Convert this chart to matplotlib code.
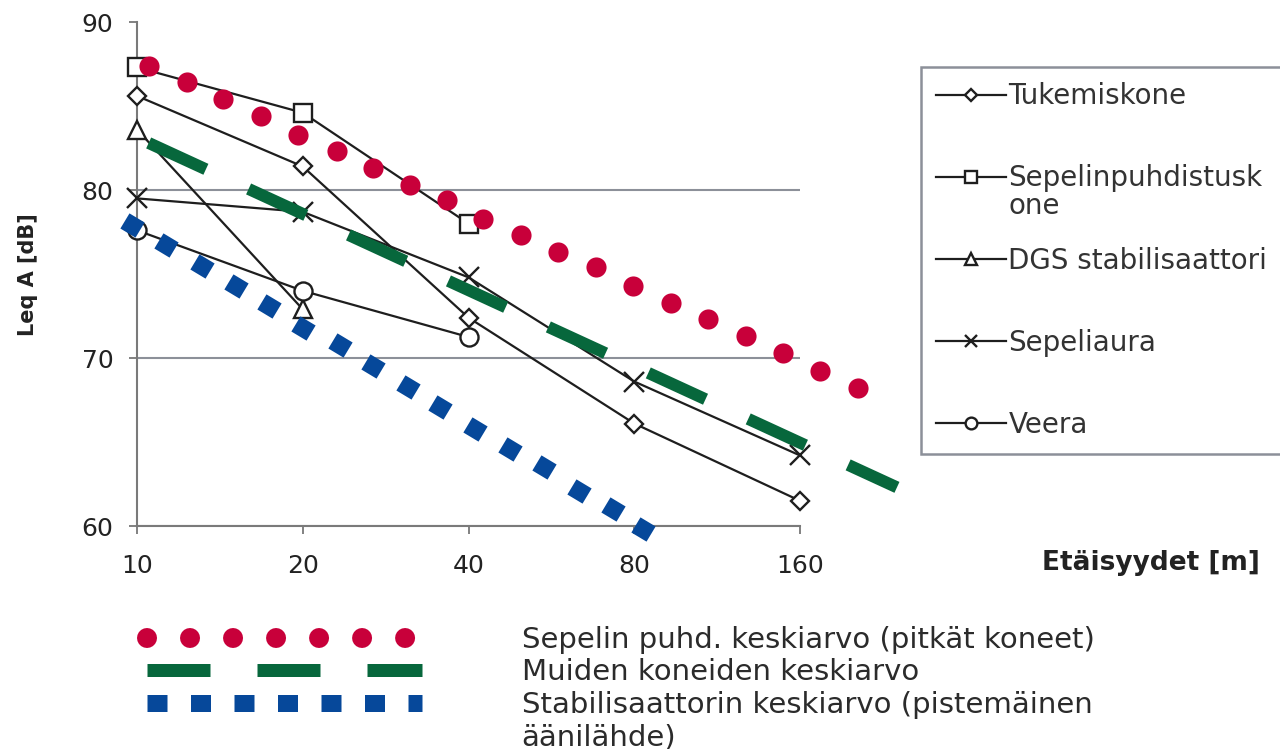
"""
Leq A noise level vs distance for track machines, with the three
average curves drawn on top (red dots, green dashes, blue squares).
"""
import matplotlib.pyplot as plt
from matplotlib.lines import Line2D
from matplotlib.text import Annotation
from matplotlib.ticker import FixedLocator, FixedFormatter, NullLocator

plt.rcParams['font.family'] = ['DejaVu Sans']
plt.rcParams['lines.scale_dashes'] = False

PX = 72 / 100          # points per pixel at dpi=100

# ── data ──────────────────────────────────────────────────────────────────
dist = [10, 20, 40, 80, 160]
dist_labels = ['10', '20', '40', '80', '160']

tukemiskone  = [85.6, 81.4, 72.4, 66.1, 61.5]
sepelinpuhd  = [87.3, 84.6, 78.0]
dgs_stab     = [83.6, 72.9]
sepeliaura   = [79.5, 78.7, 74.8, 68.6, 64.2]
veera        = [77.6, 74.0, 71.25]

# Sepelin puhd. keskiarvo (red dots)
red_x = [10.5, 12.3, 14.3, 16.8, 19.6, 23.1, 26.8, 31.3, 36.6, 42.5,
         49.8, 58.2, 68.2, 79.6, 93.3, 108.9, 127.7, 149.0, 174.0, 203.9]
red_y = [87.4, 86.4, 85.4, 84.4, 83.3, 82.3, 81.3, 80.3, 79.4, 78.3,
         77.3, 76.3, 75.4, 74.3, 73.3, 72.3, 71.3, 70.3, 69.2, 68.2]

# Muiden koneiden keskiarvo (green dashes), start / end
green_x = [10.5, 240.0]
green_y = [82.8, 62.3]

# Stabilisaattorin keskiarvo (blue squares)
blue_x = [9.8, 11.3, 13.1, 15.1, 17.4, 20.0, 23.4, 26.8, 31.1, 35.5,
          41.1, 47.6, 54.9, 63.5, 73.2, 83.0]
blue_y = [77.9, 76.7, 75.5, 74.3, 73.1, 71.8, 70.8, 69.5, 68.3, 67.1,
          65.8, 64.6, 63.5, 62.1, 61.0, 59.8]

RED, GREEN, BLUE = '#c8003a', '#07673c', '#06489a'
INK, GRID = '#1e1e1e', '#8c9099'

# ── figure ────────────────────────────────────────────────────────────────
fig = plt.figure(figsize=(12.8, 7.49), dpi=100)
ax = fig.add_axes([137 / 1280, 1 - 526 / 749, 663 / 1280, 504 / 749])
ax.set_xscale('log')
ax.set_xlim(10, 160)
ax.set_ylim(60, 90)

kw = dict(color=INK, lw=1.6, mfc='white', mec=INK, mew=1.7, zorder=3,
          clip_on=False)
l1, = ax.plot(dist, tukemiskone, marker='D', ms=9, **kw)
l2, = ax.plot(dist[:3], sepelinpuhd, marker='s', ms=13, **kw)
l3, = ax.plot(dist[:2], dgs_stab, marker='^', ms=13, **kw)
l4, = ax.plot(dist, sepeliaura, marker='x', ms=14, **kw)
l5, = ax.plot(dist[:3], veera, marker='o', ms=13, **kw)

# average curves
ax.plot(red_x, red_y, 'o', color=RED, ms=14.5, mew=0, clip_on=False, zorder=5)
ax.plot(green_x, green_y, color=GREEN, lw=12 * PX,
        ls=(0, (63 * PX, 47 * PX)), clip_on=False, zorder=4)
ax.plot(blue_x, blue_y, ls='none', marker=(4, 0, 14), ms=25 * PX,
        color=BLUE, mew=0, clip_on=False, zorder=4)

# axes styling
ax.xaxis.set_major_locator(FixedLocator(dist))
ax.xaxis.set_major_formatter(FixedFormatter(dist_labels))
ax.xaxis.set_minor_locator(NullLocator())
ax.set_yticks([60, 70, 80, 90])
ax.tick_params(axis='both', direction='out', length=6, width=1.3,
               color='#777777', labelsize=18, labelcolor='#222222')
ax.tick_params(axis='y', pad=11)
ax.tick_params(axis='x', pad=14)
for s in ('top', 'right'):
    ax.spines[s].set_visible(False)
for s in ('left', 'bottom'):
    ax.spines[s].set_color('#7a7a7a')
    ax.spines[s].set_linewidth(1.5)

ax.yaxis.grid(True, color=GRID, lw=1.5)
ax.get_ygridlines()[-1].set_visible(False)
ax.set_axisbelow(True)

ax.set_ylabel('Leq A [dB]', fontsize=15, fontweight='bold', color='#222222')
ax.yaxis.set_label_coords((28 - 137) / 663, (526 - 275) / 504)
ax.yaxis.label.set_va('center')

ax.set_xlabel('Etäisyydet [m]', fontsize=19, fontweight='bold', color='#222222')
ax.xaxis.set_label_coords((1042 - 137) / 663, (526 - 563) / 504)
ax.xaxis.label.set_ha('left')
ax.xaxis.label.set_va('center')

# ── legends ───────────────────────────────────────────────────────────────
leg1 = fig.legend([l1, l2, l3, l4, l5],
                  ['Tukemiskone', 'Sepelinpuhdistusk',
                   'DGS stabilisaattori', 'Sepeliaura', 'Veera'],
                  loc='upper left', bbox_to_anchor=(921 / 1280, 1 - 67 / 749),
                  borderaxespad=0, fontsize=20, fancybox=False,
                  edgecolor=GRID, framealpha=1, handlelength=2.5,
                  handletextpad=0.1, labelspacing=1.95, borderpad=0.55,
                  markerscale=0.65)
leg1.get_frame().set_linewidth(1.8)
for t in leg1.get_texts():
    t.set_color('#333333')
# wrapped rest of the long label hangs under its first line
one = Annotation('one', xy=(0, 0.5), xycoords=leg1.get_texts()[1],
                 xytext=(0, -28), textcoords='offset pixels',
                 ha='left', va='center', fontsize=20, color='#333333')
one.set_zorder(10)
fig.add_artist(one)

h_red = Line2D([], [], color=RED, lw=20 * PX, ls=(0, (0.01, 43 * PX)),
               dash_capstyle='round')
h_green = Line2D([], [], color=GREEN, lw=13 * PX, ls=(0, (63 * PX, 47 * PX)))
h_blue = Line2D([], [], color=BLUE, lw=17 * PX, ls=(0, (20 * PX, 23.5 * PX)))
h_none = Line2D([], [], alpha=0)
leg2 = fig.legend([h_red, h_green, h_blue, h_none],
                  ['Sepelin puhd. keskiarvo (pitkät koneet)',
                   'Muiden koneiden keskiarvo',
                   'Stabilisaattorin keskiarvo (pistemäinen',
                   'äänilähde)'],
                  loc='upper left', bbox_to_anchor=(147 / 1280, 1 - 626 / 749),
                  borderaxespad=0, borderpad=0, frameon=False, fontsize=21,
                  handlelength=275 / 29.2, handletextpad=100 / 29.2,
                  labelspacing=0.15)
for t in leg2.get_texts():
    t.set_color('#2b2b2b')

fig.savefig('out.png', dpi=100)
